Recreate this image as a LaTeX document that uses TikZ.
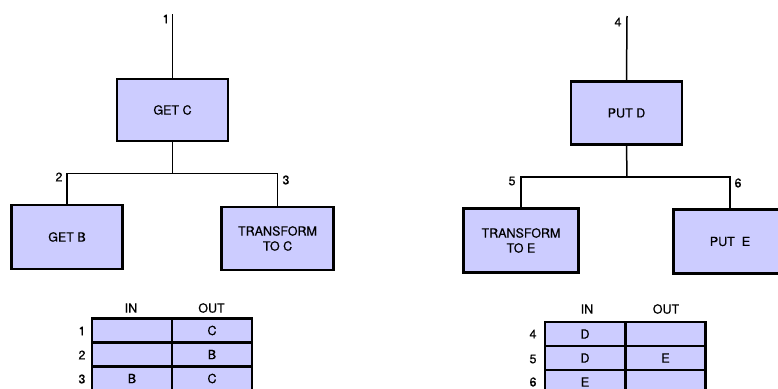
\documentclass[tikz,border=0pt]{standalone}
\usepackage{fontspec}
\setmainfont{TeX Gyre Heros}[FakeBold=0.35]
\definecolor{boxfill}{RGB}{204,204,255}
\begin{document}
\begin{tikzpicture}[x=1pt,y=-1pt,
  txt/.style={font=\fontsize{12.5}{15}\selectfont},
  proc/.style={draw, line width=2.6pt, fill=boxfill, inner sep=0pt,
    align=center, txt},
  cell/.style={draw, line width=2.4pt, fill=boxfill, inner sep=0pt,
    minimum width=80pt, minimum height=24pt, txt},
  wire/.style={line width=1.5pt},
  num/.style={inner sep=0pt, txt}]
\useasboundingbox (0,0) rectangle (778,388);

% ---------- left tree ----------
\node[proc, minimum width=111pt, minimum height=62pt] (getc) at (172.5,110) {GET C};
\node[proc, minimum width=111pt, minimum height=64pt] (getb) at (67,237) {GET B};
\node[proc, minimum width=112pt, minimum height=63pt] (trc) at (277.5,238.5) {TRANSFORM\\TO C};
\coordinate (inC) at (172.5,14);
\coordinate (jC) at (172.5,173.5);
\draw[wire] (inC) -- (getc.north);
\draw[wire] (getc.south) -- (jC);
\draw[wire] (getb.north) |- (jC) -| (trc.north);
\node[num] (n1) at (166,19) {1};
\node[num] (n2) at (59,177) {2};
\node[num] (n3) at (286,180) {3};

% ---------- right tree ----------
\node[proc, minimum width=111pt, minimum height=63pt] (putd) at (626.5,113) {PUT D};
\node[proc, minimum width=115pt, minimum height=64pt] (tre) at (521,240.5) {TRANSFORM\\TO E};
\node[proc, minimum width=113pt, minimum height=64pt] (pute) at (730,241.5) {PUT\ \ E};
\coordinate (inD) at (627,16);
\coordinate (jD) at (627,177);
\draw[wire] (inD) -- (putd.north);
\draw[wire] (putd.south) -- (jD);
\draw[wire] (tre.north) |- (jD) -| (pute.north);
\node[num] (n4) at (618,22) {4};
\node[num] (n5) at (512,181) {5};
\node[num] (n6) at (738,183) {6};

% ---------- left table ----------
\node[num] (hLin) at (131,308) {IN};
\node[num] (hLout) at (211.5,308) {OUT};
\node[cell] (L1in)  at (132,330.5) {};
\node[cell] (L1out) at (212,330.5) {C};
\node[cell] (L2in)  at (132,354.5) {};
\node[cell] (L2out) at (212,354.5) {B};
\node[cell] (L3in)  at (132,378.5) {B};
\node[cell] (L3out) at (212,378.5) {C};
\node[num] (r1) at (82,331) {1};
\node[num] (r2) at (82,355) {2};
\node[num] (r3) at (82,379) {3};

% ---------- right table ----------
\node[num] (hRin) at (587,309) {IN};
\node[num] (hRout) at (666,309) {OUT};
\node[cell] (R4in)  at (585,334) {D};
\node[cell] (R4out) at (665.5,334) {};
\node[cell] (R5in)  at (585,358) {D};
\node[cell] (R5out) at (665.5,358) {E};
\node[cell] (R6in)  at (585,382) {E};
\node[cell] (R6out) at (665.5,382) {};
\node[num] (r4) at (533,334) {4};
\node[num] (r5) at (533,359) {5};
\node[num] (r6) at (533,382) {6};
\end{tikzpicture}
\end{document}
